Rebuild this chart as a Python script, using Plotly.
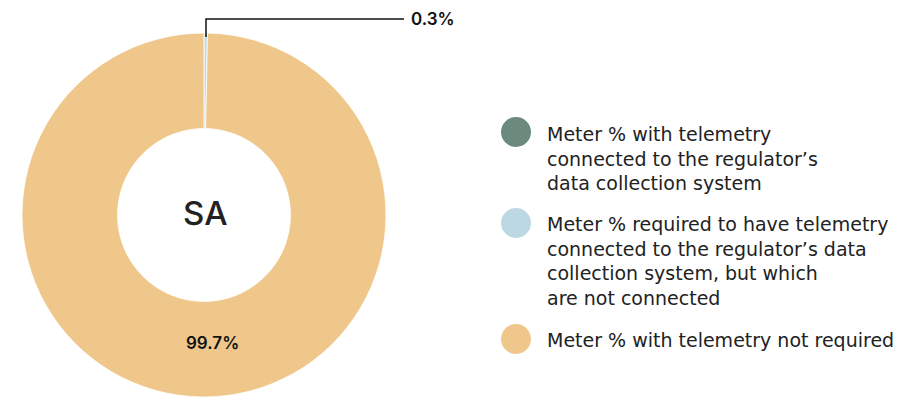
import plotly.graph_objects as go

labels = [
    "Meter % with telemetry<br>connected to the regulator’s<br>data collection system",
    "Meter % required to have telemetry<br>connected to the regulator’s data<br>collection system, but which<br>are not connected",
    "Meter % with telemetry not required",
]
values = [0.0, 0.3, 99.7]
colors = ["#6b8a7d", "#bcd8e3", "#efc78b"]
region = "SA"

W, H = 921, 400
OFF = 8  # page body margin
font = "Inter"
legend_font = "DejaVu Sans"


def px(x):
    return (x - OFF) / W


def py(y):
    return 1 - (y - OFF) / H


cx, cy, r = 204, 215, 182

fig = go.Figure()
fig.add_trace(go.Pie(
    labels=[l.replace("<br>", " ") for l in labels],
    values=values,
    marker=dict(colors=colors, line=dict(color="white", width=0.8)),
    hole=0.475,
    sort=False,
    direction="clockwise",
    rotation=0,
    textinfo="none",
    hoverinfo="label+value",
    showlegend=False,
    domain=dict(x=[px(cx - r), px(cx + r)], y=[py(cy + r), py(cy - r)]),
))

annotations = [
    dict(x=px(cx + 1), y=py(cy - 2), text=region, showarrow=False,
         font=dict(family=font, size=33, color="#222", weight=500), xanchor="center", yanchor="middle"),
    dict(x=px(212), y=py(343), text=f"{values[2]}%", showarrow=False,
         font=dict(family=font, size=17, color="#111", weight=600), xanchor="center", yanchor="middle"),
    dict(x=px(409), y=py(19), text=f"{values[1]}%", showarrow=False,
         font=dict(family=font, size=17, color="#111", weight=600), xanchor="left", yanchor="middle"),
]

shapes = [
    dict(type="path", xref="paper", yref="paper",
         path=f"M {px(206)},{py(37)} L {px(206)},{py(19)} L {px(404)},{py(19)}",
         line=dict(color="#111", width=1.5)),
]

legend_y = [159, 261, 340]
for lab, col, ly in zip(labels, colors, legend_y):
    circ_y = ly - 27 if lab.count("<br>") == 2 else (ly - 38 if lab.count("<br>") == 3 else ly - 1)
    shapes.append(dict(type="circle", xref="paper", yref="paper",
                       x0=px(516 - 15), x1=px(516 + 15), y0=py(circ_y - 15), y1=py(circ_y + 15),
                       fillcolor=col, line=dict(width=0)))
    annotations.append(dict(x=px(545), y=py(ly), text=lab, showarrow=False, align="left",
                            xanchor="left", yanchor="middle",
                            font=dict(family=legend_font, size=19, color="#222")))

fig.update_layout(
    width=W, height=H,
    margin=dict(l=0, r=0, t=0, b=0),
    paper_bgcolor="white", plot_bgcolor="white",
    annotations=annotations, shapes=shapes,
)

fig.write_html("out.html")
